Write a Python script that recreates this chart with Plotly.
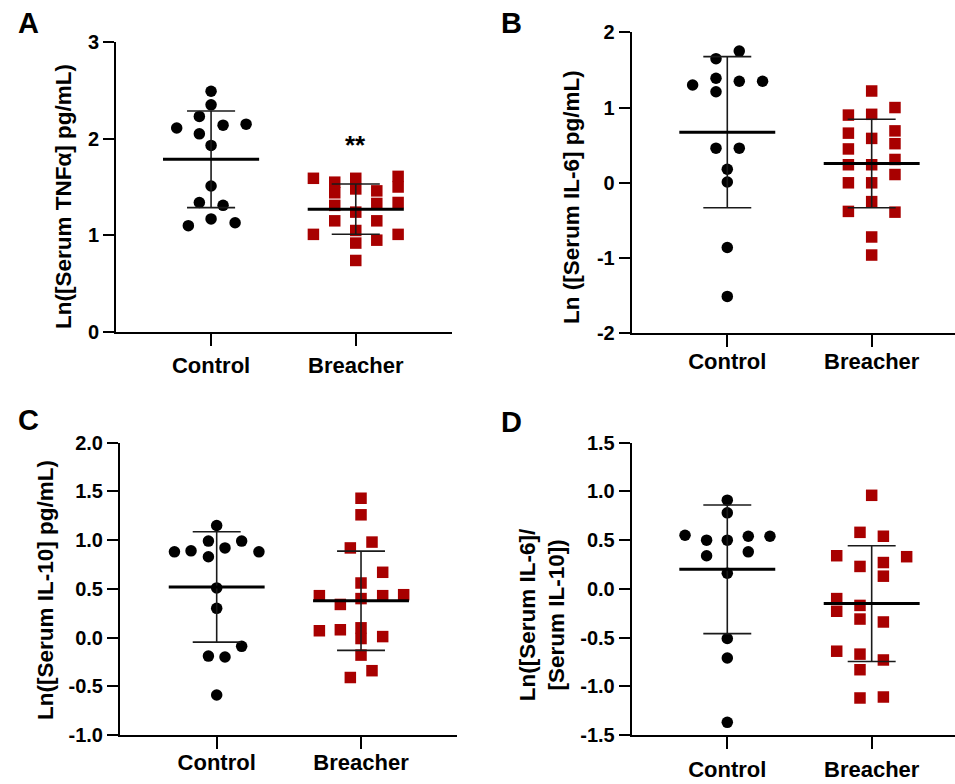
import numpy as np
import plotly.graph_objects as go

# ---------------- data ----------------
groups = ["Control", "Breacher"]

a_control = [2.49, 2.35, 2.23, 2.11, 2.14, 2.15, 2.05, 1.93, 1.51, 1.34, 1.31, 1.17, 1.10, 1.13]
a_breacher = [1.59, 1.55, 1.44, 1.31, 1.15, 1.59, 1.48, 1.24, 1.05, 0.92, 0.74,
              1.46, 1.33, 1.15, 0.95, 1.61, 1.50, 1.34, 1.01, 1.01]

b_control = [1.75, 1.65, 1.39, 1.35, 1.35, 1.30, 1.21, 0.46, 0.46, 0.18, 0.01, -0.86, -1.51]
b_breacher = [1.22, 1.00, 0.90, 0.91, 0.66, 0.69, 0.52, 0.59, 0.45, 0.24, 0.24, 0.31,
              0.11, 0.00, 0.00, -0.25, -0.38, -0.39, -0.72, -0.96]

c_control = [1.15, 0.99, 0.99, 0.88, 0.89, 0.92, 0.83, 0.88, 0.51, 0.30, -0.09, -0.19, -0.20, -0.59]
c_breacher = [1.43, 1.26, 0.92, 0.98, 0.67, 0.56, 0.43, 0.40, 0.43, 0.44, 0.34,
              0.07, 0.08, 0.10, -0.01, 0.01, -0.18, -0.34, -0.41]

d_control = [0.91, 0.78, 0.55, 0.50, 0.50, 0.54, 0.54, 0.34, 0.38, 0.16, -0.51, -0.71, -1.37]
d_breacher = [0.96, 0.58, 0.54, 0.34, 0.33, 0.23, 0.27, 0.13, -0.10, -0.23, -0.17,
              -0.31, -0.34, -0.64, -0.67, -0.73, -0.83, -1.12, -1.11]

# horizontal scatter spread of the dots (pixels, column-scatter layout)
a_control_spread = [0, 0, -11.7, -34.3, 12, 35, -11.7, 0, 0, -11.7, 12, 0, -22.7, 24]
a_breacher_spread = [-42.3, -21, -21, -21, -21, 0, 0, 0, 0, 0, 0,
                     21, 21, 21, 21, 42.3, 42.3, 42.3, 42.3, -42.3]
b_control_spread = [12, -11.3, -11.3, 12, 35.3, -34.7, -11.3, -11.3, 12, 0, 0, 0, 0]
b_breacher_spread = [0, 23.3, -23.3, 0, -23.3, 23.3, 23.3, 0, -23.3, -23.3, 0, 23.3,
                     23.3, -23.3, 0, 0, -23.3, 23.3, 0, 0]
c_control_spread = [0, -8.3, 25, -42.3, -25.7, 8.3, -8.3, 42.3, 0, 0, 25, -8.3, 8.3, 0]
c_breacher_spread = [0, 0, -10.7, 11, 21.7, 0, -41.7, 0, 21.7, 42.7, -20.7,
                     -41.7, -20.7, 0, 0, 21.7, 0, 11, -10.7]
d_control_spread = [0, 0, -42.3, -20.7, 0, 21, 42.7, -20.7, 21, 0, 0, 0, 0]
d_breacher_spread = [0, -11.7, 11.7, -35, 35, -11.7, 11.7, 11.7, -35, -35, -11.7,
                     -11.7, 11.7, -35, -11.7, 11.7, -11.7, -11.7, 11.7]

a_ticks = [0, 1, 2, 3]
a_ticktext = ["0", "1", "2", "3"]
b_ticks = [-2, -1, 0, 1, 2]
b_ticktext = ["-2", "-1", "0", "1", "2"]
c_ticks = [-1.0, -0.5, 0.0, 0.5, 1.0, 1.5, 2.0]
c_ticktext = ["-1.0", "-0.5", "0.0", "0.5", "1.0", "1.5", "2.0"]
d_ticks = [-1.5, -1.0, -0.5, 0.0, 0.5, 1.0, 1.5]
d_ticktext = ["-1.5", "-1.0", "-0.5", "0.0", "0.5", "1.0", "1.5"]

titles = ["Ln([Serum TNFα] pg/mL)", "Ln ([Serum IL-6] pg/mL)",
          "Ln([Serum IL-10] pg/mL)", "Ln([Serum IL-6]/<br>[Serum IL-10])"]
letters = ["A", "B", "C", "D"]

# ---------------- layout ----------------
W, H = 955, 784
FONT = "Liberation Sans, Arial, Helvetica, sans-serif"
RED = "#a80000"
PX_PER_CAT = 144.5

def px_x(p):
    return p / W

def px_y(p):
    return 1 - p / H

panels = [
    dict(ctrl=a_control, brch=a_breacher, cs=a_control_spread, bs=a_breacher_spread,
         xdom=[116, 451.7], ydom=[332, 42], xr=[-0.657, 1.663], yr=[0, 3],
         ticks=a_ticks, tt=a_ticktext, title_xy=(64, 197), letter_xy=(28.5, 23), stand=1),
    dict(ctrl=b_control, brch=b_breacher, cs=b_control_spread, bs=b_breacher_spread,
         xdom=[631.7, 955], ydom=[333.3, 32.3], xr=[-0.662, 1.577], yr=[-2, 2],
         ticks=b_ticks, tt=b_ticktext, title_xy=(572, 197), letter_xy=(511, 23), stand=-5),
    dict(ctrl=c_control, brch=c_breacher, cs=c_control_spread, bs=c_breacher_spread,
         xdom=[120, 456.7], ydom=[735, 442.7], xr=[-0.670, 1.663], yr=[-1, 2],
         ticks=c_ticks, tt=c_ticktext, title_xy=(45, 590), letter_xy=(28.5, 420), stand=-5),
    dict(ctrl=d_control, brch=d_breacher, cs=d_control_spread, bs=d_breacher_spread,
         xdom=[631.7, 955], ydom=[735, 442.7], xr=[-0.662, 1.577], yr=[-1.5, 1.5],
         ticks=d_ticks, tt=d_ticktext, title_xy=(541.7, 614.5), letter_xy=(511, 422), stand=2),
]

fig = go.Figure()
annotations = []

for i, p in enumerate(panels):
    n = "" if i == 0 else str(i + 1)
    xa, ya = "x" + n, "y" + n
    # points
    for gi, (vals, spread) in enumerate([(p["ctrl"], p["cs"]), (p["brch"], p["bs"])]):
        xs = [gi + s / PX_PER_CAT for s in spread]
        fig.add_trace(go.Scatter(
            x=xs, y=vals, mode="markers", xaxis=xa, yaxis=ya, showlegend=False,
            marker=dict(symbol="circle" if gi == 0 else "square", size=11.5,
                        color="black" if gi == 0 else RED, line=dict(width=0)),
            cliponaxis=False, hoverinfo="skip"))
    # mean +/- SD lines
    for gi, vals in enumerate([p["ctrl"], p["brch"]]):
        m = float(np.mean(vals))
        sd = float(np.std(vals, ddof=1))
        hw = 48 / PX_PER_CAT
        cw = 24 / PX_PER_CAT
        fig.add_trace(go.Scatter(
            x=[gi - cw, gi + cw, None, gi, gi, None, gi - cw, gi + cw],
            y=[m + sd, m + sd, None, m + sd, m - sd, None, m - sd, m - sd],
            mode="lines", line=dict(color="#1a1a1a", width=1.6), xaxis=xa, yaxis=ya,
            showlegend=False, hoverinfo="skip"))
        fig.add_trace(go.Scatter(
            x=[gi - hw, gi + hw], y=[m, m], mode="lines",
            line=dict(color="black", width=3), xaxis=xa, yaxis=ya,
            showlegend=False, hoverinfo="skip"))

    xkey = "xaxis" + n
    ykey = "yaxis" + n
    fig.layout[xkey] = dict(
        domain=[px_x(p["xdom"][0]), px_x(p["xdom"][1])], range=p["xr"], anchor=ya,
        automargin=False,
        showline=True, linewidth=2, linecolor="black", showgrid=False, zeroline=False,
        ticks="outside", ticklen=12, tickwidth=2, tickcolor="black",
        tickvals=[0, 1], ticktext=groups, ticklabelstandoff=p["stand"],
        tickfont=dict(family=FONT, size=22, color="black", weight="bold"), fixedrange=True)
    fig.layout[ykey] = dict(
        domain=[px_y(p["ydom"][0]), px_y(p["ydom"][1])], range=p["yr"], anchor=xa,
        automargin=False,
        showline=True, linewidth=2, linecolor="black", showgrid=False, zeroline=False,
        ticks="outside", ticklen=11, tickwidth=2, tickcolor="black",
        tickvals=p["ticks"], ticktext=p["tt"],
        tickfont=dict(family=FONT, size=20, color="black", weight="bold"), fixedrange=True)

    annotations.append(dict(
        text=titles[i], x=px_x(p["title_xy"][0]), y=px_y(p["title_xy"][1]),
        xref="paper", yref="paper", showarrow=False, textangle=-90,
        xanchor="center", yanchor="middle",
        font=dict(family=FONT, size=22.5, color="black", weight="bold")))
    annotations.append(dict(
        text=letters[i], x=px_x(p["letter_xy"][0]), y=px_y(p["letter_xy"][1]),
        xref="paper", yref="paper", showarrow=False, xanchor="center", yanchor="middle",
        font=dict(family=FONT, size=29, color="black", weight="bold")))

# significance marker
annotations.append(dict(text="**", x=1, y=1.93, xref="x", yref="y", showarrow=False,
                        xanchor="center", yanchor="middle",
                        font=dict(family=FONT, size=26, color="black", weight="bold")))

fig.update_layout(
    width=W, height=H, margin=dict(l=0, r=0, t=0, b=0, autoexpand=False),
    paper_bgcolor="white", plot_bgcolor="white",
    annotations=annotations, showlegend=False)

fig.write_html("out.html", config={"displayModeBar": False})
